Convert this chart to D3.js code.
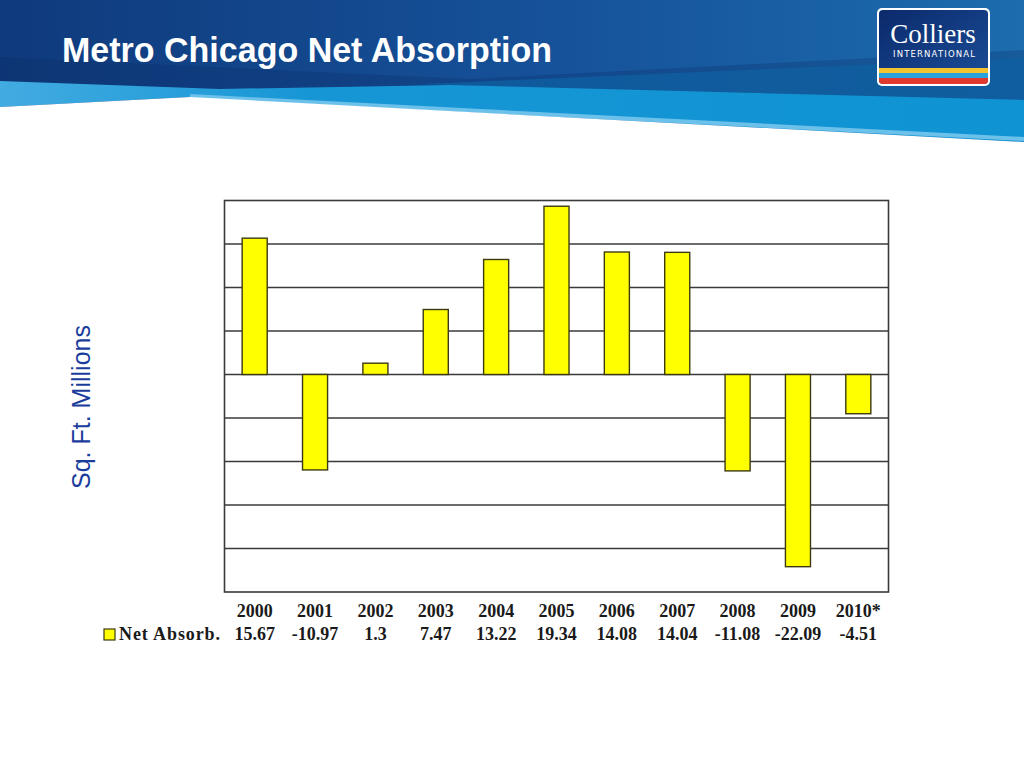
<!DOCTYPE html>
<html>
<head>
<meta charset="utf-8">
<script src="https://cdn.jsdelivr.net/npm/d3@7"></script>
<style>
  html, body { margin: 0; padding: 0; background: #fff; }
  svg { display: block; }
</style>
</head>
<body>
<div id="chart"></div>
<script>
// chart data
var years = ["2000", "2001", "2002", "2003", "2004", "2005", "2006", "2007", "2008", "2009", "2010*"];
var netAbsorb = [15.67, -10.97, 1.3, 7.47, 13.22, 19.34, 14.08, 14.04, -11.08, -22.09, -4.51];
var valueLabels = ["15.67", "-10.97", "1.3", "7.47", "13.22", "19.34", "14.08", "14.04", "-11.08", "-22.09", "-4.51"];
var gridTicks = [-20, -15, -10, -5, 0, 5, 10, 15];
var seriesName = "Net Absorb.";

function init()
{
    var w = 1024;
    var h = 768;

    var svg = d3.select("#chart")
                .append("svg")
                .attr("width", w)
                .attr("height", h);

    var defs = svg.append("defs");

    var hdr = defs.append("linearGradient").attr("id", "hdr")
        .attr("x1", "0").attr("y1", "0").attr("x2", "1").attr("y2", "0");
    hdr.append("stop").attr("offset", "0").attr("stop-color", "#0f3a7c");
    hdr.append("stop").attr("offset", "0.55").attr("stop-color", "#16529a");
    hdr.append("stop").attr("offset", "1").attr("stop-color", "#1c6cae");

    var lb = defs.append("linearGradient").attr("id", "lightband")
        .attr("x1", "0").attr("y1", "0").attr("x2", "1").attr("y2", "0");
    lb.append("stop").attr("offset", "0").attr("stop-color", "#42abe1");
    lb.append("stop").attr("offset", "0.3").attr("stop-color", "#1796d5");
    lb.append("stop").attr("offset", "1").attr("stop-color", "#0f93d3");

    var logoG = defs.append("linearGradient").attr("id", "logo")
        .attr("x1", "0").attr("y1", "0").attr("x2", "1").attr("y2", "1");
    logoG.append("stop").attr("offset", "0").attr("stop-color", "#0b2a6b");
    logoG.append("stop").attr("offset", "1").attr("stop-color", "#1b4e99");

    // header banner
    svg.append("rect")
        .attr("x", 0).attr("y", 0)
        .attr("width", w).attr("height", 150)
        .style("fill", "url(#hdr)");

    svg.append("polygon")
        .attr("points", "0,57 470,79 1024,50 1024,105 0,88")
        .style("fill", "#06265e")
        .style("opacity", 0.25);

    svg.append("polygon")
        .attr("points", "420,84 1024,58 1024,104")
        .style("fill", "#0f5fa0")
        .style("opacity", 0.8);

    svg.append("polygon")
        .attr("points", "0,81 220,89 450,85 1024,100 1024,142 190,97 0,107")
        .style("fill", "url(#lightband)");

    svg.append("line")
        .attr("x1", 190).attr("y1", 96)
        .attr("x2", 1024).attr("y2", 139)
        .style("stroke", "#6cc1ea")
        .style("stroke-width", 4);

    svg.append("polygon")
        .attr("points", "0,107 190,97 1024,142 1024,170 0,170")
        .style("fill", "#fff");

    svg.append("text")
        .attr("x", 62).attr("y", 62)
        .attr("textLength", 490)
        .attr("lengthAdjust", "spacingAndGlyphs")
        .style("font-family", "'Liberation Sans', Arial, sans-serif")
        .style("font-weight", "bold")
        .style("font-size", "35px")
        .style("fill", "#fff")
        .text("Metro Chicago Net Absorption");

    // logo
    var logo = svg.append("g");
    logo.append("rect")
        .attr("x", 877).attr("y", 8)
        .attr("width", 113).attr("height", 78)
        .attr("rx", 5)
        .style("fill", "#fff");
    logo.append("rect")
        .attr("x", 879).attr("y", 10)
        .attr("width", 109).attr("height", 74)
        .attr("rx", 4)
        .style("fill", "url(#logo)");
    logo.append("rect").attr("x", 879).attr("y", 68).attr("width", 109).attr("height", 5).style("fill", "#f4c430");
    logo.append("rect").attr("x", 879).attr("y", 73).attr("width", 109).attr("height", 5).style("fill", "#2aa3dc");
    logo.append("path")
        .attr("d", "M879,78 H988 V80 Q988,84 984,84 H883 Q879,84 879,80 Z")
        .style("fill", "#e03a2e");
    logo.append("text")
        .attr("x", 933).attr("y", 43)
        .attr("text-anchor", "middle")
        .style("font-family", "'Liberation Serif', 'Times New Roman', serif")
        .style("font-size", "27px")
        .style("fill", "#fff")
        .text("Colliers");
    logo.append("text")
        .attr("x", 893).attr("y", 57)
        .attr("textLength", 82)
        .style("font-family", "'DejaVu Sans', sans-serif")
        .style("font-size", "8.5px")
        .style("fill", "#fff")
        .text("INTERNATIONAL");

    // plot area
    var left = 224.5, right = 888.5, top = 200.5, bottom = 592;

    var x = d3.scaleBand()
        .domain(years)
        .range([left, right])
        .paddingInner(0.585)
        .paddingOuter(0.2925);

    var y = d3.scaleLinear()
        .domain([-25, 20])
        .range([bottom, top]);

    svg.append("g")
        .selectAll("line")
        .data(gridTicks)
        .enter()
        .append("line")
        .attr("x1", left).attr("x2", right)
        .attr("y1", function(d) { return y(d); })
        .attr("y2", function(d) { return y(d); })
        .style("stroke", "#3a3a3a")
        .style("stroke-width", 1.6);

    svg.append("rect")
        .attr("x", left).attr("y", top)
        .attr("width", right - left).attr("height", bottom - top)
        .style("fill", "none")
        .style("stroke", "#3a3a3a")
        .style("stroke-width", 1.6);

    svg.append("g")
        .selectAll("rect")
        .data(netAbsorb)
        .enter()
        .append("rect")
        .attr("x", function(d, i) { return x(years[i]); })
        .attr("y", function(d) { return y(Math.max(0, d)); })
        .attr("width", x.bandwidth())
        .attr("height", function(d) { return Math.abs(y(d) - y(0)); })
        .style("fill", "#ffff00")
        .style("stroke", "#3d3a10")
        .style("stroke-width", 1.4);

    // y axis title
    svg.append("text")
        .attr("transform", "translate(90,407) rotate(-90)")
        .attr("text-anchor", "middle")
        .style("font-family", "'Liberation Sans', Arial, sans-serif")
        .style("font-size", "25px")
        .style("fill", "#1a3c9c")
        .text("Sq. Ft. Millions");

    // data table
    var serif = "'Liberation Serif', 'Times New Roman', serif";

    svg.append("g")
        .selectAll("text")
        .data(years)
        .enter()
        .append("text")
        .attr("x", function(d) { return x(d) + x.bandwidth() / 2; })
        .attr("y", 617)
        .attr("text-anchor", "middle")
        .style("font-family", serif)
        .style("font-weight", "bold")
        .style("font-size", "18px")
        .style("fill", "#1a1a1a")
        .text(function(d) { return d; });

    svg.append("g")
        .selectAll("text")
        .data(valueLabels)
        .enter()
        .append("text")
        .attr("x", function(d, i) { return x(years[i]) + x.bandwidth() / 2; })
        .attr("y", 640)
        .attr("text-anchor", "middle")
        .style("font-family", serif)
        .style("font-weight", "bold")
        .style("font-size", "18px")
        .style("fill", "#1a1a1a")
        .text(function(d) { return d; });

    svg.append("rect")
        .attr("x", 104).attr("y", 629)
        .attr("width", 11).attr("height", 11)
        .style("fill", "#ffff00")
        .style("stroke", "#3d3a10")
        .style("stroke-width", 1.2);

    svg.append("text")
        .attr("x", 119).attr("y", 640)
        .attr("textLength", 101)
        .style("font-family", serif)
        .style("font-weight", "bold")
        .style("font-size", "18px")
        .style("fill", "#1a1a1a")
        .text(seriesName);
}
window.onload = init;
</script>
</body>
</html>
